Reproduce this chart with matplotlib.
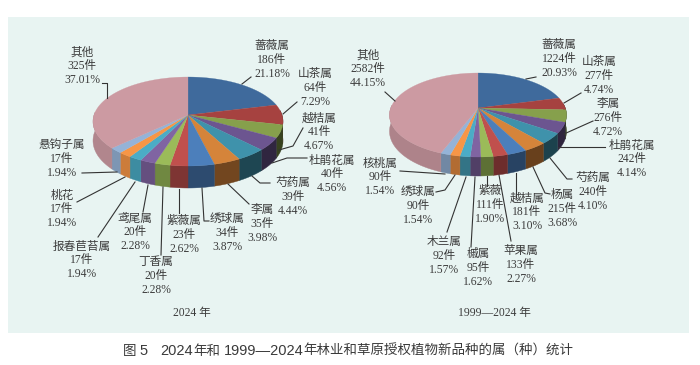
import numpy as np
import matplotlib
matplotlib.use("Agg")
import matplotlib.pyplot as plt
from matplotlib.colors import to_rgb

plt.rcParams["font.family"] = ["Liberation Serif", "Noto Sans CJK SC"]

# 2024
names_2024 = ["蔷薇属", "山茶属", "越桔属", "杜鹃花属", "芍药属", "李属", "绣球属", "紫薇属",
              "丁香属", "鸢尾属", "报春苣苔属", "桃花", "悬钩子属", "其他"]
counts_2024 = [186, 64, 41, 40, 39, 35, 34, 23, 20, 20, 17, 17, 17, 325]
pct_2024 = ["21.18%", "7.29%", "4.67%", "4.56%", "4.44%", "3.98%", "3.87%", "2.62%",
            "2.28%", "2.28%", "1.94%", "1.94%", "1.94%", "37.01%"]

# 1999-2024
names_all = ["蔷薇属", "山茶属", "李属", "杜鹃花属", "芍药属", "杨属", "越桔属", "苹果属",
             "紫薇", "槭属", "木兰属", "绣球属", "核桃属", "其他"]
counts_all = [1224, 277, 276, 242, 240, 215, 181, 133, 111, 95, 92, 90, 90, 2582]
pct_all = ["20.93%", "4.74%", "4.72%", "4.14%", "4.10%", "3.68%", "3.10%", "2.27%",
           "1.90%", "1.62%", "1.57%", "1.54%", "1.54%", "44.15%"]

colors = ["#3F6A9C", "#A64240", "#86A04C", "#6C5590", "#3F92AB", "#D5843A", "#4C7FBB",
          "#C0504D", "#9BBB59", "#8064A2", "#4BACC6", "#F79646", "#95B3D7", "#CC9AA2"]

# label centre + leader line, in pixels
label_pos_2024 = [(272, 60), (315, 88), (319, 132), (332, 174), (293, 197), (262, 224), (227, 233),
                  (184, 235), (156, 276), (135, 232), (82, 260), (62, 209), (62, 159), (82, 66)]
leaders_2024 = [
    [(242, 84), (251, 77)],
    [(283, 114), (297, 102)],
    [(279, 150), (293, 146), (303, 128)],
    [(272, 163), (287, 158), (307, 158)],
    [(252, 176), (260, 183), (270, 183)],
    [(228, 184), (249, 204)],
    [(202, 188), (204, 221), (209, 221)],
    [(179, 189), (179, 213)],
    [(163, 187), (161, 255)],
    [(148, 185), (143, 212)],
    [(135, 182), (98, 237)],
    [(125, 177), (77, 202)],
    [(117, 172), (82, 173)],
    [(107, 98), (107, 83), (102, 83)],
]
label_pos_all = [(559, 59), (599, 76), (608, 118), (632, 159), (593, 192), (562, 209), (527, 212),
                 (521, 265), (490, 205), (478, 268), (444, 256), (418, 206), (380, 177), (368, 69)]
leaders_all = [
    [(526, 79), (536, 77)],
    [(564, 103), (581, 93)],
    [(564, 134), (593, 121)],
    [(558, 147), (605, 147)],
    [(550, 158), (567, 179), (572, 179)],
    [(533, 167), (545, 193), (550, 194)],
    [(516, 173), (516, 197)],
    [(499, 175), (511, 241)],
    [(487, 176), (487, 186)],
    [(475, 177), (471, 247)],
    [(466, 177), (447, 232)],
    [(455, 175), (445, 190), (436, 192)],
    [(400, 171), (445, 174)],
    [(395, 101), (385, 92)],
]


def shade(col, f):
    return tuple(min(1, c * f) for c in to_rgb(col))


def draw_pie(ax, values, cx, cy, back, front, half_w, depth):
    k = (front - back) / (front + back)
    a = back * (1 + k)
    b = half_w * np.sqrt(1 - k * k)

    def project(t):
        x, y = np.cos(t), np.sin(t)
        return cx + b * x / (1 + k * y), cy - a * y / (1 + k * y), (1 - k) / (1 + k * y)

    edges = np.pi / 2 - 2 * np.pi * np.cumsum([0] + list(values)) / sum(values)
    # side wall first, it gets darker going right
    for i, col in enumerate(colors):
        t = np.linspace(edges[i], edges[i + 1], 60)
        t = t[np.sin(t) < 0.1]
        if len(t) < 2:
            continue
        px, py, s = project(t)
        f = np.interp(np.cos(t).mean(), [-1, -0.4, 0, 0.5, 1], [0.88, 0.8, 0.62, 0.5, 0.4])
        wall_x = np.r_[px, px[::-1]]
        wall_y = np.r_[py, (py + depth * s)[::-1]]
        ax.fill(wall_x, wall_y, color=shade(col, f), lw=0.3, zorder=2)
    # top
    for i, col in enumerate(colors):
        t = np.linspace(edges[i], edges[i + 1], 80)
        px, py, s = project(t)
        ax.fill(np.r_[cx, px], np.r_[cy, py], color=col, lw=0.2, zorder=3)


def draw_labels(ax, names, counts, pct, pos, leaders):
    for n, c, p, (x, y), line in zip(names, counts, pct, pos, leaders):
        ax.text(x, y, f"{n}\n{c}件\n{p}", ha="center", va="center", fontsize=8.4,
                color="#3c3c3c", linespacing=1.17, zorder=5)
        xs, ys = zip(*line)
        ax.plot(xs, ys, color="#333333", lw=0.8, zorder=4)


fig = plt.figure(figsize=(7, 3.65), dpi=100)
ax = fig.add_axes([0, 0, 1, 1])
ax.set_xlim(0, 700)
ax.set_ylim(365, 0)
ax.axis("off")
ax.fill([8, 689, 689, 8], [17, 17, 333, 333], color="#E8F4F2", lw=0, zorder=0)

draw_pie(ax, counts_2024, 188, 115, 38, 51, 95, 22)
draw_pie(ax, counts_all, 478, 108, 35, 49, 88.5, 19)
draw_labels(ax, names_2024, counts_2024, pct_2024, label_pos_2024, leaders_2024)
draw_labels(ax, names_all, counts_all, pct_all, label_pos_all, leaders_all)

ax.text(192, 313, "2024 年", ha="center", va="center", fontsize=8.4, color="#3c3c3c")
ax.text(494, 313, "1999—2024 年", ha="center", va="center", fontsize=8.4, color="#3c3c3c")

# caption: digits are a wider latin face than the hanzi
caption = [(123, "图", "Noto Sans CJK SC", 9.7), (139, "5", "Liberation Sans", 10.5),
           (160, "2024", "Liberation Sans", 10.5), (193, "年和", "Noto Sans CJK SC", 9.7),
           (224, "1999—2024", "Liberation Sans", 10.5),
           (303, "年林业和草原授权植物新品种的属（种）统计", "Noto Sans CJK SC", 9.7)]
for x, s, fam, size in caption:
    ax.text(x, 351, s, ha="left", va="center", fontsize=size, family=fam, color="#3a3a3a",
            weight="medium")

fig.savefig("out.png", dpi=100)
